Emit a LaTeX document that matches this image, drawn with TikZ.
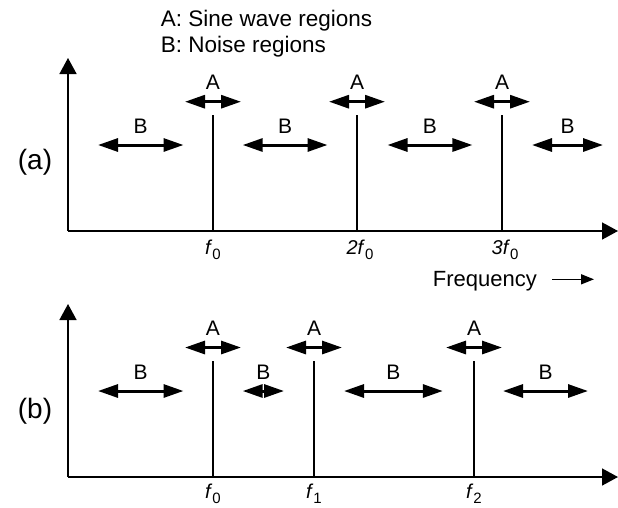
\documentclass[tikz,border=0pt]{standalone}
\usepackage{fontspec}
\setmainfont{Liberation Sans}
\usetikzlibrary{arrows.meta}
\begin{document}
\begin{tikzpicture}[x=1pt,y=-1pt,
  axis/.style={line width=1.6pt,-{Triangle[length=16pt,width=17pt]}},
  region/.style={line width=3pt,{Triangle[length=20pt,width=13pt]}-{Triangle[length=20pt,width=13pt]}},
  peak/.style={line width=1.2pt},
  lbl/.style={font=\fontsize{21}{21}\selectfont, inner sep=0pt},
  legend/.style={font=\fontsize{22.5}{22.5}\selectfont, inner sep=0pt, anchor=base west},
  panel/.style={font=\fontsize{28}{28}\selectfont, inner sep=0pt},
  flbl/.style={font=\fontsize{20}{20}\selectfont, inner sep=0pt, anchor=base},
  freqarrow/.style={line width=1.6pt,-{Triangle[length=13pt,width=10pt]}}
]
\useasboundingbox (0,0) rectangle (618,507);
\newcommand{\fsub}[2]{\textit{#1}\raisebox{-5.5pt}{\fontsize{15}{15}\selectfont #2}}

% legend
\node[legend] (legA) at (160.7,26) {A: Sine wave regions};
\node[legend] (legB) at (160.7,52.7) {B: Noise regions};

% ---------------- panel (a) ----------------
\coordinate (aO) at (68,231);
\coordinate (aY) at (68,58);
\coordinate (aX) at (618,231);
\draw[axis] (aO) -- (aY);
\draw[axis] (aO) -- (aX);
\node[panel] (alab) at (35,162) {(a)};

\foreach \n/\x in {1/213,2/357,3/502}{
  \coordinate (aP\n b) at (\x,231);
  \coordinate (aP\n t) at (\x,115);
  \draw[peak] (aP\n b) -- (aP\n t);
  \coordinate (aA\n l) at (\x-28,101.7);
  \coordinate (aA\n r) at (\x+28,101.7);
  \draw[region] (aA\n l) -- (aA\n r);
  \node[lbl] (aAl\n) at (\x,82.5) {A};
}
\foreach \n/\l/\r in {1/98/183.5,2/242.7/327.5,3/387.5/472.4,4/532/603}{
  \coordinate (aB\n l) at (\l,145);
  \coordinate (aB\n r) at (\r,145);
  \draw[region] (aB\n l) -- (aB\n r);
  \node[lbl] (aBl\n) at ({(\l+\r)/2},126.5) {B};
}
\node[flbl] (af0) at (213,254) {\fsub{f}{0}};
\node[flbl] (af1) at (360,254) {\fsub{2f}{0}};
\node[flbl] (af2) at (505,254) {\fsub{3f}{0}};

\node[legend, font=\fontsize{22}{22}\selectfont] (freq) at (432.7,286) {Frequency};
\coordinate (fqs) at (552,279.3);
\coordinate (fqe) at (594,279.3);
\draw[freqarrow] (fqs) -- (fqe);

% ---------------- panel (b) ----------------
\coordinate (bO) at (68,477);
\coordinate (bY) at (68,304);
\coordinate (bX) at (618,477);
\draw[axis] (bO) -- (bY);
\draw[axis] (bO) -- (bX);
\node[panel] (blab) at (35,411) {(b)};

\foreach \n/\x in {1/213,2/314,3/474}{
  \coordinate (bP\n b) at (\x,477);
  \coordinate (bP\n t) at (\x,361);
  \draw[peak] (bP\n b) -- (bP\n t);
  \coordinate (bA\n l) at (\x-28,347.5);
  \coordinate (bA\n r) at (\x+28,347.5);
  \draw[region] (bA\n l) -- (bA\n r);
  \node[lbl] (bAl\n) at (\x,328.5) {A};
}
\foreach \n/\l/\r in {1/98/183.5,2/242.7/284,3/344/442.8,4/503/588}{
  \coordinate (bB\n l) at (\l,391);
  \coordinate (bB\n r) at (\r,391);
  \draw[region] (bB\n l) -- (bB\n r);
  \node[lbl] (bBl\n) at ({(\l+\r)/2},372.5) {B};
}
\node[flbl] (bf0) at (213,498) {\fsub{f}{0}};
\node[flbl] (bf1) at (314,498) {\fsub{f}{1}};
\node[flbl] (bf2) at (474,498) {\fsub{f}{2}};
\end{tikzpicture}
\end{document}
